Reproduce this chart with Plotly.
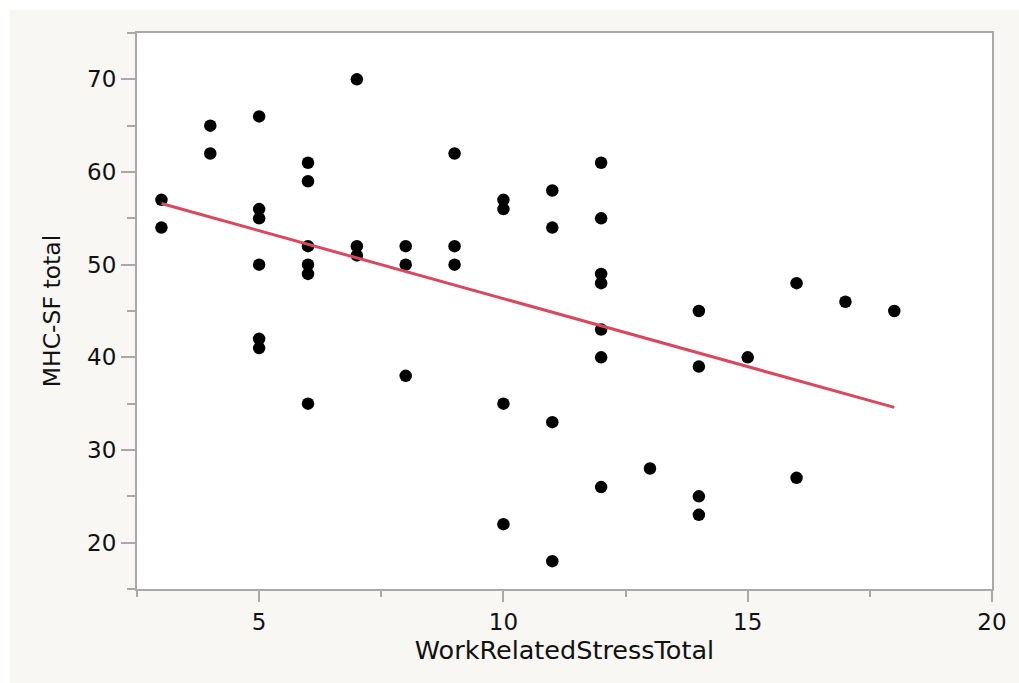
import plotly.graph_objects as go

# Data
stress = [3, 3,
          4, 4,
          5, 5, 5, 5, 5, 5,
          6, 6, 6, 6, 6, 6,
          7, 7, 7,
          8, 8, 8,
          9, 9, 9,
          10, 10, 10, 10,
          11, 11, 11, 11,
          12, 12, 12, 12, 12, 12, 12,
          13,
          14, 14, 14, 14,
          15,
          16, 16,
          17,
          18]
mhc = [57, 54,
       65, 62,
       66, 56, 55, 50, 42, 41,
       61, 59, 52, 50, 49, 35,
       70, 52, 51,
       52, 50, 38,
       62, 52, 50,
       57, 56, 35, 22,
       58, 54, 33, 18,
       61, 55, 49, 48, 43, 40, 26,
       28,
       45, 39, 25, 23,
       40,
       48, 27,
       46,
       45]

# Fitted line endpoints
fit_x = [3, 18]
fit_y = [56.6, 34.6]

x_ticks = [5, 10, 15, 20]
y_ticks = [20, 30, 40, 50, 60, 70]

W, H = 1019, 683
L, R, T, B = 137, 992, 33, 589  # plot area pixels
panel_color = "#f8f7f3"
axis_color = "#a9a9a9"
font_family = "DejaVu Sans"
text_color = "#111111"

fig = go.Figure()
fig.add_trace(go.Scatter(
    x=stress, y=mhc, mode="markers",
    marker=dict(color="black", size=12.5, line=dict(width=0)),
    showlegend=False, hoverinfo="x+y",
))
fig.add_trace(go.Scatter(
    x=fit_x, y=fit_y, mode="lines",
    line=dict(color="#d9485f", width=3),
    showlegend=False,
))

pw, ph = R - L, B - T
def px_x(p):
    return (p - L) / pw
def px_y(p):
    return (B - p) / ph

# white strips at top and left of the light panel
fig.add_shape(type="rect", xref="paper", yref="paper",
              x0=px_x(-5), x1=px_x(W + 5), y0=px_y(10), y1=px_y(-5),
              fillcolor="white", line=dict(width=0), layer="below")
fig.add_shape(type="rect", xref="paper", yref="paper",
              x0=px_x(-5), x1=px_x(10), y0=px_y(H + 5), y1=px_y(-5),
              fillcolor="white", line=dict(width=0), layer="below")

axis_common = dict(
    showgrid=False, zeroline=False,
    showline=True, linecolor=axis_color, linewidth=2, mirror=True,
    ticks="outside", tickcolor=axis_color, tickwidth=2,
    tickfont=dict(family=font_family, size=23, color=text_color),
)

fig.update_xaxes(
    range=[2.5, 20], tickvals=x_ticks, ticklen=11,
    minor=dict(tick0=0, dtick=2.5, ticklen=6, ticks="outside",
               tickcolor=axis_color, tickwidth=2),
    title=dict(text="WorkRelatedStressTotal", standoff=5,
               font=dict(family=font_family, size=25.5, color=text_color)),
    **axis_common,
)
fig.update_yaxes(
    range=[15, 75], tickvals=y_ticks, ticklen=14,
    minor=dict(tick0=0, dtick=5, ticklen=8, ticks="outside",
               tickcolor=axis_color, tickwidth=2),
    title=dict(text="MHC-SF total", standoff=20,
               font=dict(family=font_family, size=23.5, color=text_color)),
    **axis_common,
)

fig.update_layout(
    width=W, height=H,
    margin=dict(l=L, r=W - R, t=T, b=H - B, pad=0),
    paper_bgcolor=panel_color, plot_bgcolor="white",
    font=dict(family=font_family, color=text_color),
)

fig.write_html("out.html")
